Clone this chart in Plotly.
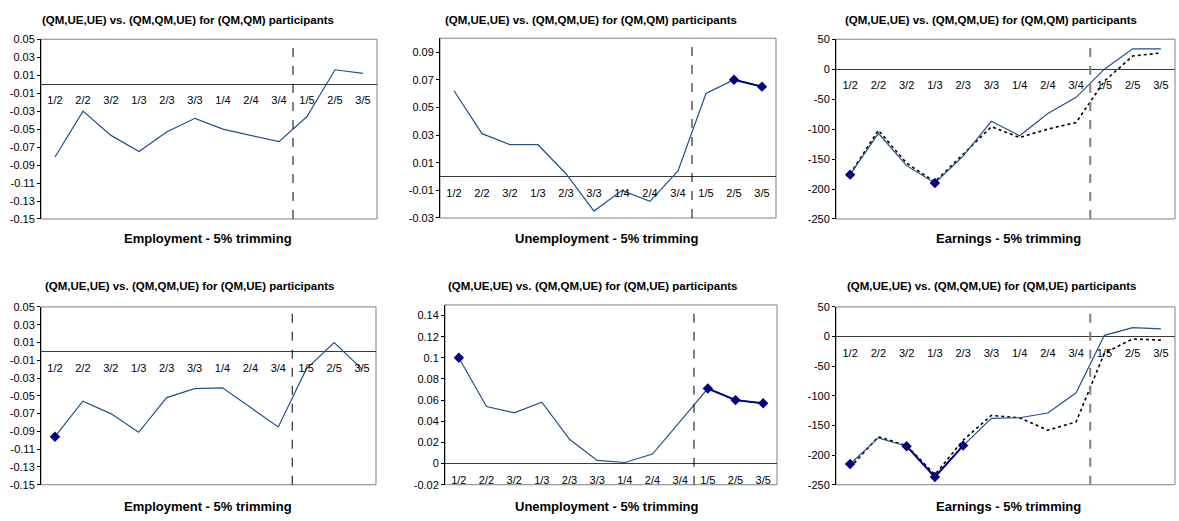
import plotly.graph_objects as go

# Categories (quarter / year)
categories = ['1/2', '2/2', '3/2', '1/3', '2/3', '3/3', '1/4', '2/4', '3/4', '1/5', '2/5', '3/5']

# (QM,QM) participants
emp_qmqm = [-0.081, -0.030, -0.057, -0.075, -0.053, -0.038, -0.050, -0.057, -0.064, -0.036, 0.016, 0.012]
unemp_qmqm = [0.062, 0.031, 0.023, 0.023, 0.002, -0.025, -0.010, -0.018, 0.004, 0.060, 0.070, 0.065]
earn_qmqm = [-176, -107, -161, -190, -145, -87, -111, -74, -47, 0, 34, 34]
earn_qmqm_dot = [-175, -102, -157, -188, -142, -96, -114, -100, -89, -20, 22, 27]

# (QM,UE) participants
emp_qmue = [-0.096, -0.056, -0.070, -0.091, -0.052, -0.042, -0.041, -0.063, -0.085, -0.020, 0.010, -0.020]
unemp_qmue = [0.100, 0.054, 0.048, 0.058, 0.023, 0.003, 0.001, 0.009, 0.040, 0.071, 0.060, 0.057]
earn_qmue = [-215, -171, -185, -237, -184, -138, -137, -129, -95, 2, 15, 13]
earn_qmue_dot = [-221, -169, -184, -233, -175, -133, -137, -158, -144, -28, -4, -6]

# indices of significant (marked) points
sig_emp_qmqm = []
sig_unemp_qmqm = [10, 11]
sig_earn_qmqm = [0, 3]
sig_emp_qmue = [0]
sig_unemp_qmue = [0, 9, 10, 11]
sig_earn_qmue = [0, 2, 3, 4]

# y tick values / labels
emp_ticks = [-0.15, -0.13, -0.11, -0.09, -0.07, -0.05, -0.03, -0.01, 0.01, 0.03, 0.05]
emp_labels = ['-0.15', '-0.13', '-0.11', '-0.09', '-0.07', '-0.05', '-0.03', '-0.01', '0.01', '0.03', '0.05']
unemp1_ticks = [-0.03, -0.01, 0.01, 0.03, 0.05, 0.07, 0.09]
unemp1_labels = ['-0.03', '-0.01', '0.01', '0.03', '0.05', '0.07', '0.09']
unemp2_ticks = [-0.02, 0, 0.02, 0.04, 0.06, 0.08, 0.1, 0.12, 0.14]
unemp2_labels = ['-0.02', '0', '0.02', '0.04', '0.06', '0.08', '0.1', '0.12', '0.14']
earn_ticks = [-250, -200, -150, -100, -50, 0, 50]
earn_labels = ['-250', '-200', '-150', '-100', '-50', '0', '50']

title_top = '(QM,UE,UE) vs. (QM,QM,UE) for (QM,QM) participants'
title_bot = '(QM,UE,UE) vs. (QM,QM,UE) for (QM,UE) participants'

W, H = 1179, 521
FONT = 'Arial, Liberation Sans, sans-serif'
LINE_COL = '#24508a'
MARK_COL = '#000080'

# panel: (main, dotted, sig, yrange, ticks, labels, x px, y px, title, title pos, xlabel, xlabel pos, earnings?)
panels = [
    (emp_qmqm, None, sig_emp_qmqm, [-0.15, 0.05], emp_ticks, emp_labels, (41, 377), (34, 218),
     title_top, (188, 14), 'Employment - 5% trimming', (208, 238), False),
    (unemp_qmqm, None, sig_unemp_qmqm, [-0.03, 0.10], unemp1_ticks, unemp1_labels, (440, 776), (33, 217),
     title_top, (591, 14), 'Unemployment - 5% trimming', (607, 238), False),
    (earn_qmqm, earn_qmqm_dot, sig_earn_qmqm, [-250, 50], earn_ticks, earn_labels, (836, 1175), (34, 218),
     title_top, (991, 14), 'Earnings - 5% trimming', (1008, 238), True),
    (emp_qmue, None, sig_emp_qmue, [-0.15, 0.05], emp_ticks, emp_labels, (41, 376), (308, 490),
     title_bot, (189, 287), 'Employment - 5% trimming', (208, 512), False),
    (unemp_qmue, None, sig_unemp_qmue, [-0.02, 0.15], unemp2_ticks, unemp2_labels, (445, 777), (306, 490),
     title_bot, (592, 287), 'Unemployment - 5% trimming', (607, 512), False),
    (earn_qmue, earn_qmue_dot, sig_earn_qmue, [-250, 50], earn_ticks, earn_labels, (836, 1175), (308, 490),
     title_bot, (991, 287), 'Earnings - 5% trimming', (1008, 512), True),
]

fig = go.Figure()
layout = {}
shapes = []
annotations = []

for i, (main, dot, sig, yr, tv, tt, xpx, ypx, ttl, tpos, xl, xlpos, earn) in enumerate(panels, start=1):
    xa = 'x' if i == 1 else f'x{i}'
    ya = 'y' if i == 1 else f'y{i}'
    xdom = [xpx[0] / W, xpx[1] / W]
    ydom = [1 - ypx[1] / H, 1 - ypx[0] / H]
    # x axis sits on the zero line, like Excel's category axis
    zero_pos = ydom[0] + (0 - yr[0]) / (yr[1] - yr[0]) * (ydom[1] - ydom[0])

    if dot is not None:
        fig.add_trace(go.Scatter(x=categories, y=dot, mode='lines', xaxis=xa, yaxis=ya,
                                 line=dict(color='black', width=1.6, dash='dot'), showlegend=False))
    fig.add_trace(go.Scatter(x=categories, y=main, mode='lines', xaxis=xa, yaxis=ya,
                             line=dict(color=LINE_COL, width=1.2), showlegend=False))
    sig_y = [v if k in sig else None for k, v in enumerate(main)]
    fig.add_trace(go.Scatter(x=categories, y=sig_y, mode='lines+markers', xaxis=xa, yaxis=ya,
                             connectgaps=False,
                             line=dict(color=MARK_COL, width=2),
                             marker=dict(symbol='diamond', size=8, color=MARK_COL),
                             showlegend=False))

    layout['xaxis' if i == 1 else f'xaxis{i}'] = dict(
        domain=xdom, type='category', range=[-0.5, 11.5],
        anchor='free', position=zero_pos,
        showline=False, showgrid=False, zeroline=False,
        ticks='outside', ticklen=6, tickcolor='rgba(0,0,0,0)',
        tickfont=dict(size=11, color='black', family=FONT),
    )
    layout['yaxis' if i == 1 else f'yaxis{i}'] = dict(
        domain=ydom, anchor=xa, range=yr,
        tickvals=tv, ticktext=tt,
        showline=True, linecolor='black', linewidth=1,
        ticks='outside', ticklen=3, tickcolor='black',
        showgrid=False, zeroline=True, zerolinecolor='#3a3a3a', zerolinewidth=1.4,
        tickfont=dict(size=11, color='black', family=FONT),
    )

    # plot frame
    shapes.append(dict(type='rect', xref=f'{xa} domain', yref=f'{ya} domain',
                       x0=0, x1=1, y0=0, y1=1, line=dict(color='#808080', width=1), layer='below'))
    # divider between 3/4 and 1/5
    shapes.append(dict(type='line', xref=xa, yref=f'{ya} domain', x0=8.5, x1=8.5, y0=0, y1=1,
                       line=dict(color='#808080' if earn else 'black', width=2 if earn else 1, dash='dash')))

    annotations.append(dict(text=f'<b>{ttl}</b>', x=tpos[0] / W, y=1 - tpos[1] / H,
                            xref='paper', yref='paper', showarrow=False,
                            xanchor='center', yanchor='middle',
                            font=dict(size=11.5, color='black', family=FONT)))
    annotations.append(dict(text=f'<b>{xl}</b>', x=xlpos[0] / W, y=1 - xlpos[1] / H,
                            xref='paper', yref='paper', showarrow=False,
                            xanchor='center', yanchor='middle',
                            font=dict(size=13, color='black', family=FONT)))

fig.update_layout(
    **layout,
    shapes=shapes,
    annotations=annotations,
    width=W, height=H, autosize=False,
    margin=dict(l=0, r=0, t=0, b=0),
    paper_bgcolor='white', plot_bgcolor='white',
    font=dict(family=FONT, color='black'),
)

# drop the browser's default page margin so the figure fills the window
fig.write_html('out.html', config={'displayModeBar': False},
               post_script="document.body.style.margin='0';")
